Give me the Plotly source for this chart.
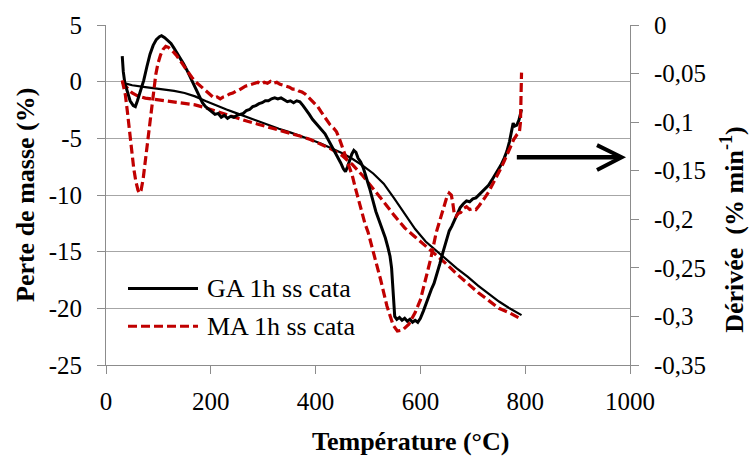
import plotly.graph_objects as go

# ---------------- data ----------------
# GA 1h ss cata : mass loss (left axis, %)
ga_mass_t = [31, 40, 50, 60, 75, 90, 110, 130, 150, 170, 190, 210, 230, 250, 270, 290, 310, 330, 350, 370,
             390, 410, 430, 450, 470, 490, 510, 530, 550, 570, 590, 610, 630, 650, 670, 690, 710, 730, 750, 770, 793]
ga_mass = [0, -0.2, -0.32, -0.4, -0.48, -0.57, -0.68, -0.82, -1.0, -1.3, -1.7, -2.1, -2.45, -2.8, -3.15, -3.45,
           -3.8, -4.15, -4.45, -4.75, -5.1, -5.45, -5.85, -6.3, -6.8, -7.4, -8.1, -9.0, -10.3, -11.7, -13.0,
           -14.1, -14.9, -15.7, -16.5, -17.2, -18.0, -18.7, -19.4, -20.0, -20.6]

# MA 1h ss cata : mass loss (left axis, %)
ma_mass_t = [31, 36, 42, 50, 60, 75, 90, 110, 130, 150, 170, 190, 210, 230, 250, 270, 290, 310, 330, 350, 370,
             390, 410, 430, 450, 470, 490, 510, 530, 550, 570, 590, 610, 630, 650, 670, 690, 710, 730, 750, 770, 788]
ma_mass = [0, -0.3, -0.65, -1.0, -1.25, -1.45, -1.55, -1.65, -1.75, -1.9, -2.05, -2.3, -2.6, -2.95, -3.25, -3.5,
           -3.75, -4.0, -4.25, -4.5, -4.8, -5.1, -5.5, -5.95, -6.5, -7.3, -8.3, -9.4, -10.6, -11.8, -12.9, -13.7,
           -14.5, -15.3, -16.1, -17.0, -17.8, -18.6, -19.3, -20.0, -20.4, -20.85]

# GA 1h ss cata : derivative (right axis, % min-1)
ga_der_t = [31, 33, 36, 40, 46, 52, 56, 60, 66, 72, 78, 84, 90, 96, 102, 106, 112, 118, 124, 130, 136, 142, 148,
            154, 160, 166, 172, 178, 184, 190, 196, 202, 208, 214, 220, 226, 232, 238, 244, 250, 256, 262, 268,
            274, 280, 286, 292, 298, 304, 310, 316, 322, 328, 334, 340, 346, 352, 358, 364, 370, 376, 382, 388,
            394, 400, 406, 412, 418, 424, 430, 436, 442, 448, 453, 457, 461, 465, 469, 473, 477, 481, 486, 491,
            497, 503, 509, 515, 521, 527, 533, 538, 542, 545, 547, 549, 551, 555, 560, 565, 570, 575, 580, 585,
            590, 595, 600, 606, 611, 616, 621, 626, 631, 637, 643, 649, 655, 660, 665, 670, 676, 682, 688, 694,
            700, 706, 712, 718, 724, 730, 736, 742, 748, 754, 760, 765, 770, 774, 777, 780, 784, 788, 791, 793]
ga_der = [-0.032, -0.048, -0.060, -0.068, -0.078, -0.083, -0.084, -0.078, -0.068, -0.057, -0.043, -0.030,
          -0.021, -0.015, -0.012, -0.011, -0.013, -0.016, -0.019, -0.024, -0.029, -0.034, -0.040, -0.046,
          -0.053, -0.060, -0.066, -0.073, -0.080, -0.084, -0.087, -0.089, -0.092, -0.091, -0.095, -0.093,
          -0.096, -0.094, -0.095, -0.093, -0.092, -0.091, -0.088, -0.087, -0.084, -0.083, -0.081, -0.080,
          -0.078, -0.078, -0.076, -0.075, -0.076, -0.075, -0.077, -0.079, -0.078, -0.080, -0.078, -0.079,
          -0.083, -0.087, -0.092, -0.097, -0.101, -0.105, -0.108, -0.112, -0.118, -0.124, -0.129, -0.135,
          -0.142, -0.148, -0.151, -0.146, -0.139, -0.133, -0.129, -0.131, -0.137, -0.141, -0.147, -0.157,
          -0.168, -0.180, -0.192, -0.201, -0.209, -0.219, -0.229, -0.238, -0.250, -0.268, -0.290, -0.300,
          -0.303, -0.301, -0.304, -0.302, -0.305, -0.303, -0.306, -0.304, -0.306, -0.302, -0.294, -0.286,
          -0.278, -0.272, -0.266, -0.258, -0.246, -0.234, -0.222, -0.212, -0.207, -0.201, -0.196, -0.188,
          -0.184, -0.181, -0.182, -0.179, -0.178, -0.175, -0.172, -0.169, -0.165, -0.160, -0.155, -0.150,
          -0.144, -0.137, -0.130, -0.120, -0.107, -0.101, -0.104, -0.103, -0.098, -0.090, -0.087]

# MA 1h ss cata : derivative (right axis, % min-1)
ma_der_t = [31, 34, 37, 41, 45, 49, 53, 57, 61, 64, 67, 71, 75, 79, 83, 87, 91, 95, 99, 104, 109, 114, 119, 124,
            129, 134, 140, 146, 152, 158, 164, 170, 176, 182, 188, 194, 200, 206, 212, 218, 224, 230, 236, 242,
            248, 254, 260, 266, 272, 278, 284, 290, 296, 302, 308, 314, 320, 326, 332, 338, 344, 350, 356, 362,
            368, 374, 380, 386, 392, 398, 404, 410, 416, 422, 428, 434, 440, 446, 452, 458, 464, 470, 476, 482,
            488, 494, 500, 512, 524, 536, 548, 556, 566, 578, 590, 600, 610, 620, 630, 640, 650, 655, 659, 662,
            665, 668, 672, 677, 682, 688, 694, 700, 706, 712, 718, 724, 730, 736, 742, 748, 754, 760, 766, 772,
            778, 784, 789, 791, 792, 793]
ma_der = [-0.057, -0.066, -0.072, -0.090, -0.110, -0.130, -0.148, -0.161, -0.170, -0.173, -0.170, -0.158,
          -0.140, -0.122, -0.104, -0.085, -0.067, -0.051, -0.040, -0.031, -0.025, -0.022, -0.023, -0.025,
          -0.028, -0.031, -0.035, -0.040, -0.045, -0.050, -0.054, -0.058, -0.061, -0.064, -0.067, -0.070,
          -0.072, -0.075, -0.074, -0.076, -0.074, -0.073, -0.071, -0.070, -0.068, -0.067, -0.065, -0.063,
          -0.062, -0.061, -0.060, -0.059, -0.061, -0.059, -0.060, -0.058, -0.060, -0.059, -0.061, -0.062,
          -0.063, -0.064, -0.066, -0.066, -0.068, -0.069, -0.071, -0.074, -0.077, -0.080, -0.084, -0.089,
          -0.094, -0.099, -0.103, -0.106, -0.110, -0.118, -0.127, -0.135, -0.144, -0.155, -0.168, -0.180,
          -0.193, -0.204, -0.213, -0.236, -0.262, -0.289, -0.309, -0.315, -0.314, -0.308, -0.296, -0.283,
          -0.263, -0.240, -0.214, -0.195, -0.178, -0.173, -0.175, -0.184, -0.196, -0.197, -0.194, -0.193,
          -0.189, -0.187, -0.190, -0.189, -0.190, -0.186, -0.182, -0.177, -0.172, -0.166, -0.160, -0.154,
          -0.147, -0.140, -0.133, -0.125, -0.118, -0.113, -0.110, -0.100, -0.075, -0.049]

series_names = ["GA 1h ss cata", "MA 1h ss cata"]

x_ticks = [0, 200, 400, 600, 800, 1000]
left_ticks = [-25, -20, -15, -10, -5, 0, 5]
left_labels = ["-25", "-20", "-15", "-10", "-5", "0", "5"]
right_ticks = [-0.35, -0.3, -0.25, -0.2, -0.15, -0.1, -0.05, 0]
right_labels = ["-0,35", "-0,3", "-0,25", "-0,2", "-0,15", "-0,1", "-0,05", "0"]

# ---------------- styling ----------------
BLACK = "#000000"
RED = "#c00000"
GRID = "#a6a6a6"
AXIS = "#8c8c8c"
FONT = "Liberation Serif, Times New Roman, serif"

fig = go.Figure()

fig.add_trace(go.Scatter(x=ga_mass_t, y=ga_mass, mode="lines", name=series_names[0],
                         line=dict(color=BLACK, width=2.2), showlegend=False, yaxis="y"))
fig.add_trace(go.Scatter(x=ma_mass_t, y=ma_mass, mode="lines", name=series_names[1],
                         line=dict(color=RED, width=3.2, dash="9px,4px"), showlegend=False, yaxis="y"))
fig.add_trace(go.Scatter(x=ga_der_t, y=ga_der, mode="lines", name=series_names[0],
                         line=dict(color=BLACK, width=3), showlegend=False, yaxis="y2"))
fig.add_trace(go.Scatter(x=ma_der_t, y=ma_der, mode="lines", name=series_names[1],
                         line=dict(color=RED, width=3.2, dash="9px,4px"), showlegend=False, yaxis="y2"))

L, R, T, B = 106, 119, 23, 92
W, H = 749, 457
pw, ph = W - L - R, H - T - B


def px2paper(px, py):
    return (px - L) / pw, (H - B - py) / ph


shapes = []
annotations = []

# manual legend
for i, (col, dash, wid, py) in enumerate([(BLACK, "solid", 3, 288), (RED, "9px,4px", 3.2, 326)]):
    x0, y0 = px2paper(128, py)
    x1, _ = px2paper(198, py)
    shapes.append(dict(type="line", xref="paper", yref="paper", x0=x0, x1=x1, y0=y0, y1=y0,
                       line=dict(color=col, width=wid, dash=dash)))
    tx, _ = px2paper(205, py)
    annotations.append(dict(text=series_names[i], xref="paper", yref="paper", x=tx, y=y0,
                            xanchor="left", yanchor="middle", showarrow=False,
                            font=dict(family=FONT, size=26, color="#000000")))

# arrow pointing to the right axis (drawn in x / left-axis coordinates)
shapes.append(dict(type="line", xref="x", yref="y", x0=784, x1=982, y0=-6.67, y1=-6.67,
                   line=dict(color=BLACK, width=4.5)))
shapes.append(dict(type="path", xref="x", yref="y", path="M 937,-5.6 L 984,-6.67 L 937,-7.8",
                   line=dict(color=BLACK, width=4)))

# axis titles
tx, ty = px2paper(410, 442)
annotations.append(dict(text="<b>Température (°C)</b>", xref="paper", yref="paper", x=tx, y=ty,
                        xanchor="center", yanchor="middle", showarrow=False,
                        font=dict(family=FONT, size=26, color="#000000")))
tx, ty = px2paper(25, 194)
annotations.append(dict(text="<b>Perte de masse (%)</b>", xref="paper", yref="paper", x=tx, y=ty,
                        xanchor="center", yanchor="middle", showarrow=False, textangle=-90,
                        font=dict(family=FONT, size=26, color="#000000")))
tx, ty = px2paper(733, 229)
annotations.append(dict(text="<b>Dérivée  (% min<sup>-1</sup>)</b>", xref="paper", yref="paper", x=tx, y=ty,
                        xanchor="center", yanchor="middle", showarrow=False, textangle=-90,
                        font=dict(family=FONT, size=26, color="#000000")))

fig.update_layout(
    width=W, height=H,
    margin=dict(l=L, r=R, t=T, b=B, pad=0),
    paper_bgcolor="white", plot_bgcolor="white",
    font=dict(family=FONT, size=25, color="#000000"),
    showlegend=False,
    shapes=shapes,
    annotations=annotations,
    xaxis=dict(range=[0, 1000], tickvals=x_ticks, ticktext=[str(v) for v in x_ticks],
               showgrid=False, zeroline=False, showline=True, linecolor=AXIS, linewidth=1,
               ticks="outside", ticklen=8, tickcolor=AXIS, ticklabelstandoff=6,
               tickfont=dict(family=FONT, size=25)),
    yaxis=dict(range=[-25, 5], tickvals=left_ticks, ticktext=left_labels,
               showgrid=True, gridcolor=GRID, gridwidth=1, zeroline=False,
               showline=True, linecolor=AXIS, linewidth=1,
               ticks="outside", ticklen=8, tickcolor=AXIS, ticklabelstandoff=10,
               tickfont=dict(family=FONT, size=25)),
    yaxis2=dict(range=[-0.35, 0], tickvals=right_ticks, ticktext=right_labels,
                overlaying="y", side="right", anchor="x",
                showgrid=False, zeroline=False, showline=True, linecolor=AXIS, linewidth=1,
                ticks="outside", ticklen=8, tickcolor=AXIS, ticklabelstandoff=10,
                tickfont=dict(family=FONT, size=25)),
)

fig.write_html("out.html", config={"displayModeBar": False},
               post_script="document.body.style.margin='0';document.body.style.overflow='hidden';")
